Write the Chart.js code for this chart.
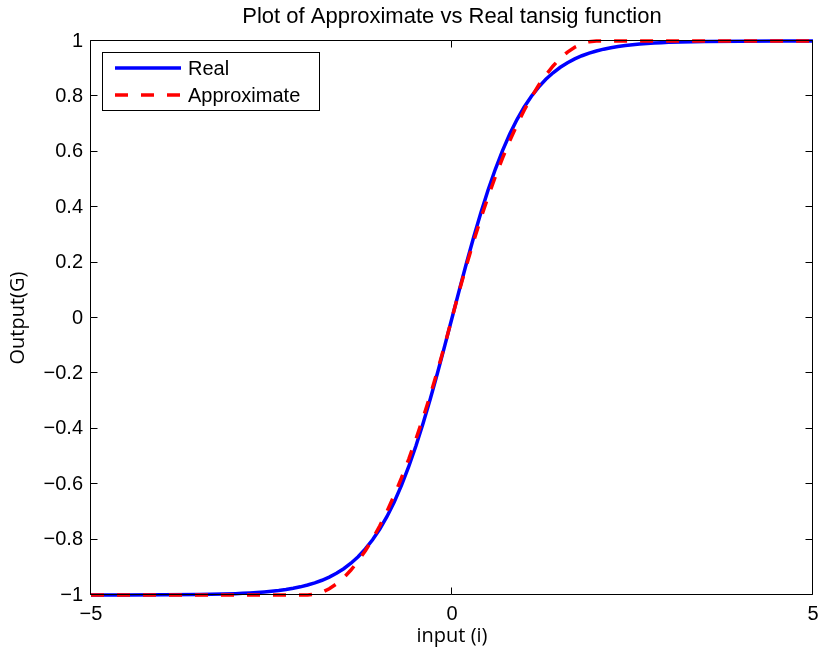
<!DOCTYPE html>
<html>
<head>
<meta charset="utf-8">
<script src="https://cdn.jsdelivr.net/npm/chart.js@4/dist/chart.umd.min.js"></script>
<style>
  html, body { margin: 0; padding: 0; background: #fff; }
  #wrap { width: 819px; height: 655px; }
</style>
</head>
<body>
<div id="wrap"><canvas id="c" width="819" height="655"></canvas></div>
<script>
// ---- data ----
const inputX = [-5, -4.5, -4, -3.5,
  -3, -2.9, -2.8, -2.7, -2.6, -2.5, -2.4, -2.3, -2.2, -2.1,
  -2, -1.9, -1.8, -1.7, -1.6, -1.5, -1.4, -1.3, -1.2, -1.1,
  -1, -0.9, -0.8, -0.7, -0.6, -0.5, -0.4, -0.3, -0.2, -0.1,
  0, 0.1, 0.2, 0.3, 0.4, 0.5, 0.6, 0.7, 0.8, 0.9,
  1, 1.1, 1.2, 1.3, 1.4, 1.5, 1.6, 1.7, 1.8, 1.9,
  2, 2.1, 2.2, 2.3, 2.4, 2.5, 2.6, 2.7, 2.8, 2.9,
  3, 3.5, 4, 4.5, 5];
const realG = [-0.9999, -0.9998, -0.9993, -0.9982,
  -0.9951, -0.9940, -0.9926, -0.9910, -0.9890, -0.9866, -0.9837, -0.9801, -0.9757, -0.9705,
  -0.9640, -0.9562, -0.9468, -0.9354, -0.9217, -0.9051, -0.8854, -0.8617, -0.8337, -0.8005,
  -0.7616, -0.7163, -0.6640, -0.6044, -0.5370, -0.4621, -0.3799, -0.2913, -0.1974, -0.0997,
  0, 0.0997, 0.1974, 0.2913, 0.3799, 0.4621, 0.5370, 0.6044, 0.6640, 0.7163,
  0.7616, 0.8005, 0.8337, 0.8617, 0.8854, 0.9051, 0.9217, 0.9354, 0.9468, 0.9562,
  0.9640, 0.9705, 0.9757, 0.9801, 0.9837, 0.9866, 0.9890, 0.9910, 0.9926, 0.9940,
  0.9951, 0.9982, 0.9993, 0.9998, 0.9999];
const approxG = [-1, -1, -1, -1,
  -1, -1, -1, -1, -1, -1, -1, -1, -1, -1,
  -1, -0.9975, -0.99, -0.9775, -0.96, -0.9375, -0.91, -0.8775, -0.84, -0.7975,
  -0.75, -0.6975, -0.64, -0.5775, -0.51, -0.4375, -0.36, -0.2775, -0.19, -0.0975,
  0, 0.0975, 0.19, 0.2775, 0.36, 0.4375, 0.51, 0.5775, 0.64, 0.6975,
  0.75, 0.7975, 0.84, 0.8775, 0.91, 0.9375, 0.96, 0.9775, 0.99, 0.9975,
  1, 1, 1, 1, 1, 1, 1, 1, 1, 1,
  1, 1, 1, 1, 1];
const seriesNames = ['Real', 'Approximate'];
const xTickValues = [-5, 0, 5];
const titleText = 'Plot of Approximate vs Real tansig function';
const xLabel = 'input (i)';
const yLabel = 'Output(G)';

// ---- build chart ----
const toPts = (ys) => inputX.map((x, i) => ({ x: x, y: ys[i] }));
const fmt = (v) => {
  const r = Math.round(v * 10) / 10;
  return String(r).replace('-', '\u2212');
};
const SANS = "'Liberation Sans', Arial, sans-serif";
const TICK_FONT = { family: SANS, size: 20 };

const boxTicksPlugin = {
  id: 'boxTicks',
  afterDatasetsDraw(chart) {
    const { ctx, chartArea: a, scales } = chart;
    ctx.save();
    ctx.strokeStyle = '#000';
    ctx.lineWidth = 1;
    const L = Math.round(a.left) - 0.5, R = Math.round(a.right) - 0.5;
    const T = Math.round(a.top) - 0.5, B = Math.round(a.bottom) - 0.5;
    ctx.beginPath();
    ctx.rect(L, T, R - L, B - T);
    scales.y.ticks.forEach(t => {
      const p = Math.round(scales.y.getPixelForValue(t.value)) - 0.5;
      ctx.moveTo(L, p); ctx.lineTo(L + 7, p);
      ctx.moveTo(R, p); ctx.lineTo(R - 7, p);
    });
    scales.x.ticks.forEach(t => {
      const p = Math.round(scales.x.getPixelForValue(t.value)) - 0.5;
      ctx.moveTo(p, B); ctx.lineTo(p, B - 7);
      ctx.moveTo(p, T); ctx.lineTo(p, T + 7);
    });
    ctx.stroke();

    // title, centred over the axes
    ctx.fillStyle = '#000';
    ctx.font = "22px " + SANS;
    ctx.textAlign = 'center';
    ctx.textBaseline = 'middle';
    ctx.fillText(titleText, (a.left + a.right) / 2, 17);

    // legend
    const lx = 102.5, ly = 52.5, lw = 217, lh = 58;
    ctx.fillStyle = '#fff';
    ctx.fillRect(lx, ly, lw, lh);
    ctx.strokeRect(lx, ly, lw, lh);
    const ds = chart.data.datasets;
    const rows = [68, 95];
    [0, 1].forEach((k, i) => {
      const d = ds.find(s => s.label === seriesNames[k]);
      ctx.beginPath();
      ctx.strokeStyle = d.borderColor;
      ctx.lineWidth = d.borderWidth;
      ctx.setLineDash(d.borderDash || []);
      ctx.moveTo(115, rows[i]); ctx.lineTo(181, rows[i]);
      ctx.stroke();
      ctx.setLineDash([]);
      ctx.fillStyle = '#000';
      ctx.font = "20px " + SANS;
      ctx.textBaseline = 'middle';
      ctx.textAlign = 'left';
      ctx.fillText(d.label, 188, rows[i] + 1);
    });
    ctx.restore();
  }
};

new Chart(document.getElementById('c'), {
  type: 'line',
  data: {
    datasets: [
      { label: seriesNames[0], data: toPts(realG), borderColor: '#0000ff', borderWidth: 3.5,
        pointRadius: 0, tension: 0, fill: false, order: 2, clip: 5 },
      { label: seriesNames[1], data: toPts(approxG), borderColor: '#ff0000', borderWidth: 3.5,
        borderDash: [13, 13], pointRadius: 0, tension: 0, fill: false, order: 1, clip: 5 }
    ]
  },
  options: {
    responsive: false,
    animation: false,
    devicePixelRatio: 1,
    layout: { padding: { left: 0, right: 6, top: 41, bottom: 0 } },
    plugins: {
      legend: { display: false },
      tooltip: { enabled: false },
      title: { display: false }
    },
    scales: {
      x: {
        type: 'linear', min: -5, max: 5,
        afterBuildTicks: (s) => { s.ticks = xTickValues.map(v => ({ value: v })); },
        afterFit: (s) => { s.height = 60; s.paddingLeft = 0; s.paddingRight = 0; },
        grid: { display: false, drawTicks: false },
        border: { display: false },
        ticks: { color: '#000', font: TICK_FONT, padding: 7, maxRotation: 0, callback: (v) => fmt(v) },
        title: { display: true, text: xLabel, color: '#000',
          font: { family: "'Open Sans', sans-serif", size: 20, lineHeight: 1.2 }, padding: { top: 0, bottom: 7 } }
      },
      y: {
        type: 'linear', min: -1, max: 1,
        afterFit: (s) => { s.width = 91; s.paddingTop = 0; s.paddingBottom = 0; },
        grid: { display: false, drawTicks: false },
        border: { display: false },
        ticks: { color: '#000', font: TICK_FONT, padding: 8, stepSize: 0.2, callback: (v) => fmt(v) },
        title: { display: true, text: yLabel, color: '#000',
          font: { family: "'Open Sans', sans-serif", size: 20, lineHeight: 1.2 }, padding: { top: 6, bottom: 0 } }
      }
    }
  },
  plugins: [boxTicksPlugin]
});
</script>
</body>
</html>
